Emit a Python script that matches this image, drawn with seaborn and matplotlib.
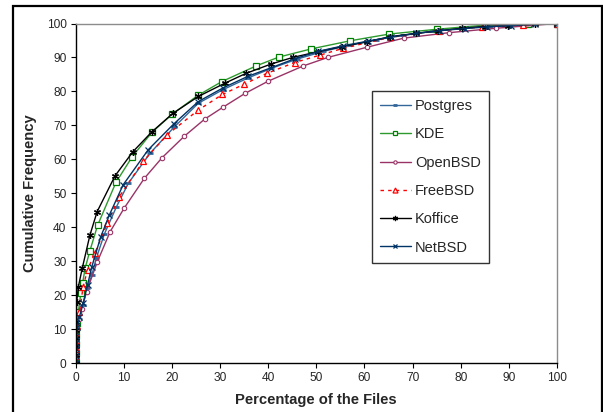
import matplotlib
matplotlib.use("Agg")
import matplotlib.pyplot as plt
from matplotlib.patches import Rectangle
import seaborn as sns
import pandas as pd

sns.set_style("white")
plt.rcParams["font.family"] = ["Liberation Sans", "DejaVu Sans"]

# Cumulative frequency (%) against percentage of files, per project
postgres_x = [0, 0.02, 0.05, 0.1, 0.2, 0.4, 0.8, 1.5, 2.4, 3.4, 4.3, 6.0, 8.5, 11.0, 15.5, 20.5,
              25.5, 30.6, 35.9, 40.7, 46.0, 51.5, 57.0, 62.5, 68.0, 74.0, 80.0, 86.0, 93.0, 100]
postgres_y = [0, 2, 4, 6, 8, 10, 13, 17, 22, 25.9, 30.8, 38, 46, 53, 61.8, 69.5,
              76.5, 80.5, 84.0, 86.8, 89.5, 91.8, 93.6, 95.2, 96.5, 97.7, 98.6, 99.3, 99.8, 100]

kde_x = [0, 0.02, 0.05, 0.1, 0.2, 0.35, 0.6, 1.1, 1.5, 2.0, 3.0, 4.6, 8.4, 11.8, 15.9, 20.1,
         25.4, 30.4, 37.5, 42.2, 48.9, 57.0, 65.2, 75.0, 84.9, 93.9, 100]
kde_y = [0, 3, 5.5, 8, 10, 11.8, 15.1, 20.5, 23.7, 27.9, 33.1, 40.6, 53.2, 60.8, 68.0, 73.3,
         78.8, 82.9, 87.5, 90.1, 92.5, 94.9, 96.9, 98.3, 99.5, 99.9, 100]

openbsd_x = [0, 0.02, 0.05, 0.1, 0.2, 0.4, 0.8, 1.3, 2.3, 4.5, 7.2, 10.1, 14.3, 18.0, 22.6,
             26.8, 30.7, 35.2, 40.0, 47.3, 52.4, 60.5, 68.2, 77.6, 87.3, 100]
openbsd_y = [0, 2, 4, 5.5, 7.5, 10, 13, 16, 21, 29.7, 38.7, 45.6, 54.4, 60.5, 66.8,
             71.8, 75.4, 79.4, 83.0, 87.5, 90.0, 93.0, 95.7, 97.3, 98.6, 100]

freebsd_x = [0, 0.02, 0.05, 0.1, 0.2, 0.4, 0.8, 1.6, 2.5, 4.0, 6.6, 9.1, 14.1, 19.1, 25.5,
             30.5, 35.0, 39.7, 45.5, 50.8, 55.6, 65.3, 75.5, 84.5, 93.0, 100]
freebsd_y = [0, 2, 4, 6, 8.5, 11, 15, 22.5, 27.5, 32.3, 41.1, 49.0, 59.5, 67.3, 74.5,
             79.1, 82.1, 85.3, 88.5, 90.7, 92.7, 95.9, 97.9, 99.0, 99.6, 100]

koffice_x = [0, 0.01, 0.02, 0.04, 0.07, 0.1, 0.25, 0.6, 1.4, 3.0, 4.5, 8.2, 11.9, 15.8, 20.2,
             25.5, 31.0, 35.4, 40.5, 45.1, 50.4, 55.3, 60.5, 65.3, 70.7, 75.3, 80.2, 85.0,
             89.9, 95.4, 100]
koffice_y = [0, 2.5, 5, 7.5, 9.7, 12.2, 18.1, 22.5, 27.9, 37.7, 44.6, 55.1, 62.2, 68.0, 73.5,
             78.5, 82.4, 85.3, 88.0, 90.0, 91.7, 93.2, 94.6, 96.1, 97.1, 97.8, 98.6, 99.1,
             99.3, 99.8, 100]

netbsd_x = [0, 0.02, 0.05, 0.1, 0.2, 0.4, 0.8, 1.6, 2.5, 3.4, 5.2, 7.0, 9.9, 15.1, 20.4,
            25.5, 30.6, 35.9, 40.7, 45.5, 50.4, 55.5, 60.7, 65.5, 70.8, 75.8, 80.8, 85.5,
            90.5, 95.5, 100]
netbsd_y = [0, 2, 4, 6, 8, 10.5, 13.5, 17.6, 23, 28.4, 37.0, 43.5, 52.5, 62.8, 70.4,
            77.0, 81.0, 84.5, 87.0, 89.6, 91.8, 93.4, 94.8, 96.0, 97.1, 97.9, 98.5, 99.0,
            99.4, 99.8, 100]

x_ticks = [0, 10, 20, 30, 40, 50, 60, 70, 80, 90, 100]
y_ticks = [0, 10, 20, 30, 40, 50, 60, 70, 80, 90, 100]

series = [
    ("Postgres", postgres_x, postgres_y,
     dict(color="#336699", linestyle="-", marker="_", markersize=4, markeredgewidth=2.0,
          markeredgecolor="#336699")),
    ("KDE", kde_x, kde_y,
     dict(color="#2e9a2e", linestyle="-", marker="s", markersize=4.0, markerfacecolor="white",
          markeredgecolor="#008000", markeredgewidth=0.9)),
    ("OpenBSD", openbsd_x, openbsd_y,
     dict(color="#993366", linestyle="-", marker="o", markersize=3.2, markerfacecolor="white",
          markeredgecolor="#993366", markeredgewidth=0.8)),
    ("FreeBSD", freebsd_x, freebsd_y,
     dict(color="#ff0000", linestyle=(0, (2.5, 3)), marker="^", markersize=4.8, markerfacecolor="white",
          markeredgecolor="#ff0000", markeredgewidth=0.9)),
    ("Koffice", koffice_x, koffice_y,
     dict(color="#000000", linestyle="-", marker=(6, 2, 0), markersize=5.0,
          markeredgecolor="#000000", markeredgewidth=0.9)),
    ("NetBSD", netbsd_x, netbsd_y,
     dict(color="#003366", linestyle="-", marker="x", markersize=4.0,
          markeredgecolor="#003366", markeredgewidth=0.9)),
]

fig = plt.figure(figsize=(6.03, 4.12), dpi=100)
ax = fig.add_axes([75.5 / 603, 1 - 363 / 412, 481.5 / 603, 339.5 / 412])

for name, xs, ys, style in series:
    df = pd.DataFrame({"x": xs, "y": ys})
    sns.lineplot(data=df, x="x", y="y", ax=ax, label=name, linewidth=1.0,
                 errorbar=None, sort=False, **style)

ax.set_xlim(0, 100)
ax.set_ylim(0, 100)
ax.set_xticks(x_ticks)
ax.set_yticks(y_ticks)
ax.tick_params(axis="both", direction="out", length=3.5, width=0.8, color="black",
               labelsize=8.6, pad=3, bottom=True, left=True)

for side in ("left", "bottom"):
    ax.spines[side].set_color("black")
    ax.spines[side].set_linewidth(1.0)
for side in ("top", "right"):
    ax.spines[side].set_color("#8c8c8c")
    ax.spines[side].set_linewidth(1.0)

ax.set_xlabel("Percentage of the Files", fontsize=10.6, fontweight="bold")
ax.set_ylabel("Cumulative Frequency", fontsize=10.6, fontweight="bold")
ax.xaxis.set_label_coords(0.5, -0.088)
ax.yaxis.set_label_coords(-0.080, 0.5)

leg = ax.legend(loc="upper left", bbox_to_anchor=(0.616, 0.801), fontsize=10.5,
                frameon=True, fancybox=False, shadow=False, handlelength=2.1,
                handletextpad=0.3, labelspacing=0.98, borderpad=0.55, borderaxespad=0,
                markerscale=0.75)
leg.get_frame().set_edgecolor("black")
leg.get_frame().set_linewidth(1.0)

# chart-area border, open at the bottom edge of the image
fig.patches.append(Rectangle((13 / 603, -0.2), 589 / 603, 1.2 - 6 / 412,
                             transform=fig.transFigure, fill=False, edgecolor="black",
                             linewidth=1.6, clip_on=False))

fig.savefig("out.png", dpi=100)
